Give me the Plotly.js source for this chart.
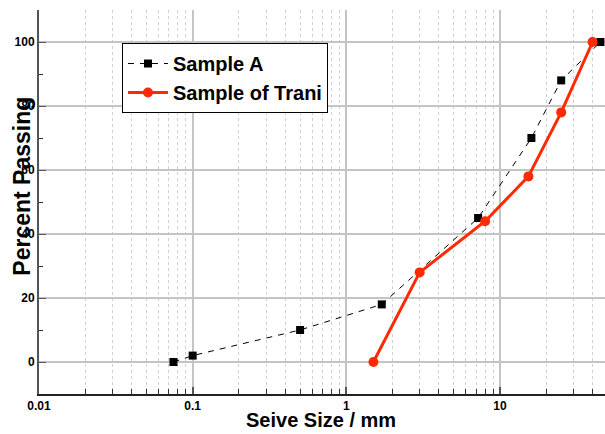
<!DOCTYPE html>
<html>
<head>
<meta charset="utf-8">
<script src="https://cdn.plot.ly/plotly-3.0.1.min.js"></script>
<style>html,body{margin:0;padding:0;background:#fff;}#chart{width:605px;height:434px;}</style>
</head>
<body>
<div id="chart"></div>
<script>
const sampleA_size = [0.075, 0.1, 0.5, 1.7, 7.2, 16, 25, 45];
const sampleA_pass = [0, 2, 10, 18, 45, 70, 88, 100];
const trani_size = [1.5, 3, 8, 15.3, 25, 40];
const trani_pass = [0, 28, 44, 58, 78, 100];
const yTicks = [0, 20, 40, 60, 80, 100];
const xTickVals = [0.01, 0.1, 1, 10];
const xTickText = ['0.01', '0.1', '1', '10'];

const traces = [
  {x: sampleA_size, y: sampleA_pass, name: 'Sample A', type: 'scatter', mode: 'lines+markers',
   line: {color: '#000', width: 1, dash: '6px,6px'},
   marker: {symbol: 'square', size: 8, color: '#000'}},
  {x: trani_size, y: trani_pass, name: 'Sample of Trani', type: 'scatter', mode: 'lines+markers',
   line: {color: '#ff2a00', width: 3},
   marker: {symbol: 'circle', size: 10, color: '#ff2a00'}}
];

const tickFont = {family: 'Liberation Sans, Arial, sans-serif', size: 12, color: '#000', weight: 'bold'};
const layout = {
  width: 605, height: 434,
  margin: {l: 39, r: 0, t: 10, b: 40},
  paper_bgcolor: '#fff', plot_bgcolor: '#fff',
  showlegend: true,
  legend: {x: 0.1466, y: 0.914, xanchor: 'left', yanchor: 'top',
    bordercolor: '#000', borderwidth: 1, bgcolor: '#fff',
    font: {family: 'Liberation Sans, Arial, sans-serif', size: 20, color: '#000', weight: 'bold'},
    tracegroupgap: 0, itemwidth: 40},
  xaxis: {type: 'log', range: [-2, 1.683], tickvals: xTickVals, ticktext: xTickText,
    tickfont: tickFont, ticks: 'inside', ticklen: 7, tickwidth: 2, tickcolor: '#555',
    showgrid: true, gridcolor: '#c4c4c4', gridwidth: 2,
    minor: {dtick: 'D1', ticks: 'inside', ticklen: 5, tickcolor: '#333', tickwidth: 1,
      showgrid: true, gridcolor: '#d0d0d0', gridwidth: 1, griddash: '3px,3px'},
    showline: true, linecolor: '#222', linewidth: 2, zeroline: false, mirror: false},
  yaxis: {range: [-10, 110], tickvals: yTicks, tickfont: tickFont,
    ticks: 'inside', ticklen: 7, tickwidth: 1, tickcolor: '#555',
    showgrid: true, gridcolor: '#c4c4c4', gridwidth: 2,
    minor: {dtick: 10, ticks: 'inside', ticklen: 4, tickcolor: '#333', showgrid: false},
    showline: true, linecolor: '#555', linewidth: 2, zeroline: false},
  annotations: [
    {text: 'Percent Passing', xref: 'paper', yref: 'paper', x: -0.03, y: 0.54,
     xanchor: 'center', yanchor: 'middle', textangle: -90, showarrow: false,
     font: {family: 'Liberation Sans, Arial, sans-serif', size: 23, color: '#000', weight: 'bold'}},
    {text: 'Seive Size / mm', xref: 'paper', yref: 'paper', x: 0.498, y: -0.068,
     xanchor: 'center', yanchor: 'middle', showarrow: false,
     font: {family: 'Liberation Sans, Arial, sans-serif', size: 20, color: '#000', weight: 'bold'}}
  ]
};
Plotly.newPlot('chart', traces, layout, {displayModeBar: false, staticPlot: true});
</script>
</body>
</html>
